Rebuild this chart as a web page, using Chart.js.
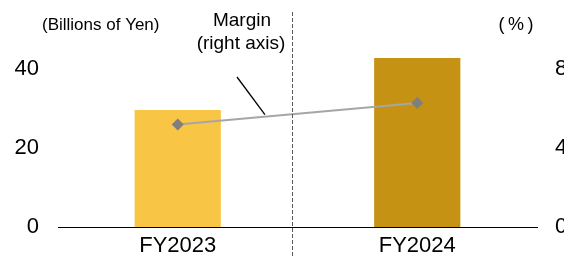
<!DOCTYPE html>
<html>
<head>
<meta charset="utf-8">
<script src="https://cdn.jsdelivr.net/npm/chart.js@4/dist/chart.umd.min.js"></script>
<style>
html,body{margin:0;padding:0;background:#fff;overflow:hidden;}
#wrap{width:564px;height:256px;position:relative;}
canvas{display:block;}
</style>
</head>
<body>
<div id="wrap"><canvas id="c" width="564" height="256"></canvas></div>
<script>
const categories = ['FY2023', 'FY2024'];
const salesValues = [29.7, 42.9];          // Billions of Yen (left axis)
const marginValues = [5.2, 6.3];           // % (right axis)
const leftTicks = [0, 20, 40];
const rightTicks = [0, 4, 8];
const barColors = ['#F8C545', '#C69214'];
const leftUnit = '(Billions of Yen)';
const rightUnit = '(\u2009%\u2009)';
const seriesLabel = ['Margin', '(right axis)'];
const DIVIDER_POS = 0.476;  // between categories (category index units)

const FONT = '"Liberation Sans", Arial, sans-serif';

const overlay = {
  id: 'overlay',
  afterDraw(chart) {
    const ctx = chart.ctx;
    const x = chart.scales.x, y1 = chart.scales.y1;
    const p0 = x.getPixelForValue(0), p1 = x.getPixelForValue(1);
    // dashed divider
    const dx = Math.round(p0 + (p1 - p0) * DIVIDER_POS) + 0.5;
    ctx.save();
    ctx.strokeStyle = '#595959';
    ctx.lineWidth = 1;
    ctx.setLineDash([4, 2]);
    ctx.beginPath();
    ctx.moveTo(dx, 12);
    ctx.lineTo(dx, chart.height);
    ctx.stroke();
    ctx.setLineDash([]);

    // texts
    ctx.fillStyle = '#000';
    ctx.textBaseline = 'middle';
    ctx.textAlign = 'left';
    ctx.font = '17px ' + FONT;
    ctx.fillText(leftUnit, 42, 25);
    ctx.textAlign = 'center';
    ctx.font = '19px ' + FONT;
    ctx.fillText(seriesLabel[0], 242, 21);
    ctx.fillText(seriesLabel[1], 241, 44);
    ctx.font = '18px ' + FONT;
    ctx.textBaseline = 'alphabetic';
    ctx.fillText(rightUnit, 516, 30);

    // callout line to the margin line
    const f = 0.364;
    const ex = p0 + (p1 - p0) * f;
    const ey = y1.getPixelForValue(marginValues[0] + (marginValues[1] - marginValues[0]) * f) - 2;
    ctx.strokeStyle = '#000';
    ctx.lineWidth = 1.3;
    ctx.beginPath();
    ctx.moveTo(237, 77);
    ctx.lineTo(ex, ey);
    ctx.stroke();
    ctx.restore();
  }
};

function noPad(s) { s.paddingTop = 0; s.paddingBottom = 0; s.paddingLeft = 0; s.paddingRight = 0; }

new Chart(document.getElementById('c'), {
  type: 'bar',
  data: {
    labels: categories,
    datasets: [
      {
        type: 'line',
        label: 'Margin',
        data: marginValues,
        yAxisID: 'y1',
        borderColor: '#A6A6A6',
        borderWidth: 2,
        pointStyle: 'rectRot',
        pointRadius: 6,
        pointBackgroundColor: '#7F7F7F',
        pointBorderWidth: 0,
        order: 1
      },
      {
        type: 'bar',
        label: 'Sales',
        data: salesValues,
        yAxisID: 'y',
        backgroundColor: barColors,
        barPercentage: 0.36,
        categoryPercentage: 1,
        order: 2
      }
    ]
  },
  options: {
    responsive: false,
    animation: false,
    layout: { padding: { top: 30, left: 0, right: 0, bottom: 0 } },
    plugins: { legend: { display: false }, tooltip: { enabled: false } },
    scales: {
      x: {
        grid: { display: false, drawTicks: false },
        border: { display: true, color: '#000', width: 1 },
        ticks: { font: { family: FONT, size: 22 }, color: '#000', padding: 6 },
        afterFit(s) { s.height = 29; noPad(s); }
      },
      y: {
        position: 'left',
        min: 0, max: 50,
        grid: { display: false, drawTicks: false },
        border: { display: false },
        ticks: { font: { family: FONT, size: 22 }, color: '#000', padding: 19 },
        afterBuildTicks(s) { s.ticks = leftTicks.map(v => ({ value: v })); },
        afterFit(s) { s.width = 58; noPad(s); }
      },
      y1: {
        position: 'right',
        min: 0, max: 10,
        grid: { display: false, drawTicks: false },
        border: { display: false },
        ticks: { font: { family: FONT, size: 22 }, color: '#000', padding: 18 },
        afterBuildTicks(s) { s.ticks = rightTicks.map(v => ({ value: v })); },
        afterFit(s) { s.width = 27; noPad(s); }
      }
    }
  },
  plugins: [overlay]
});
</script>
</body>
</html>
